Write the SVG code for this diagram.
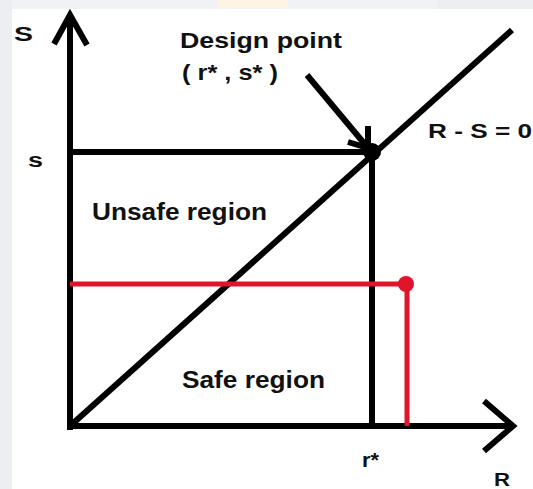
<svg xmlns="http://www.w3.org/2000/svg" width="533" height="489" viewBox="0 0 533 489">
<style>
.t{font-family:"Liberation Sans",Arial,sans-serif;font-weight:bold;fill:#111;}
.bk{stroke:#000;stroke-width:6;fill:none;stroke-linecap:butt;}
.rd{stroke:#e0142b;stroke-width:5;fill:none;}
</style>
<rect width="533" height="489" fill="#ffffff"/>
<rect x="0" y="0" width="533" height="9" fill="#f1f2f5"/>
<rect x="0" y="0" width="12" height="489" fill="#eceef2"/>
<rect x="218" y="0" width="70" height="8" fill="#fff3e6"/>
<rect x="437" y="0" width="96" height="9" fill="#eceef2"/>
<g id="connectors">
<line class="bk" x1="70" y1="430" x2="70" y2="16"/>
<polyline class="bk" points="54,44 70,15 87,45"/>
<line class="bk" x1="67" y1="426" x2="512" y2="426"/>
<polyline class="bk" points="484,401 513,426 484,451"/>
<line class="bk" x1="70" y1="426" x2="512" y2="30"/>
<line class="bk" x1="70" y1="152" x2="372" y2="152"/>
<line class="bk" x1="372" y1="152" x2="372" y2="426"/>
<line class="bk" x1="307" y1="75" x2="368" y2="148"/>
<polyline class="bk" points="348,142 368,148 368,126"/>
<line class="rd" x1="70" y1="284" x2="406" y2="284"/>
<line class="rd" x1="407" y1="284" x2="407" y2="426"/>
</g>
<g id="design-point"><circle cx="372" cy="152" r="9" fill="#000"/></g>
<g id="red-point"><circle cx="406" cy="284" r="8" fill="#e0142b"/></g>
<g id="labels">
<text class="t" x="14" y="41" font-size="21" textLength="19" lengthAdjust="spacingAndGlyphs">S</text>
<text class="t" x="28" y="167" font-size="20" textLength="15" lengthAdjust="spacingAndGlyphs">s</text>
<text class="t" x="180" y="48" font-size="22" textLength="162" lengthAdjust="spacingAndGlyphs">Design point</text>
<text class="t" x="182" y="80" font-size="22" textLength="96" lengthAdjust="spacingAndGlyphs">( r* , s* )</text>
<text class="t" x="428" y="138" font-size="21" textLength="104" lengthAdjust="spacingAndGlyphs">R - S = 0</text>
<text class="t" x="92" y="220" font-size="23" textLength="175" lengthAdjust="spacingAndGlyphs">Unsafe region</text>
<text class="t" x="182" y="388" font-size="23" textLength="143" lengthAdjust="spacingAndGlyphs">Safe region</text>
<text class="t" x="362" y="467" font-size="20" textLength="17" lengthAdjust="spacingAndGlyphs">r*</text>
<text class="t" x="494" y="486" font-size="19" textLength="16" lengthAdjust="spacingAndGlyphs">R</text>
</g>
</svg>
